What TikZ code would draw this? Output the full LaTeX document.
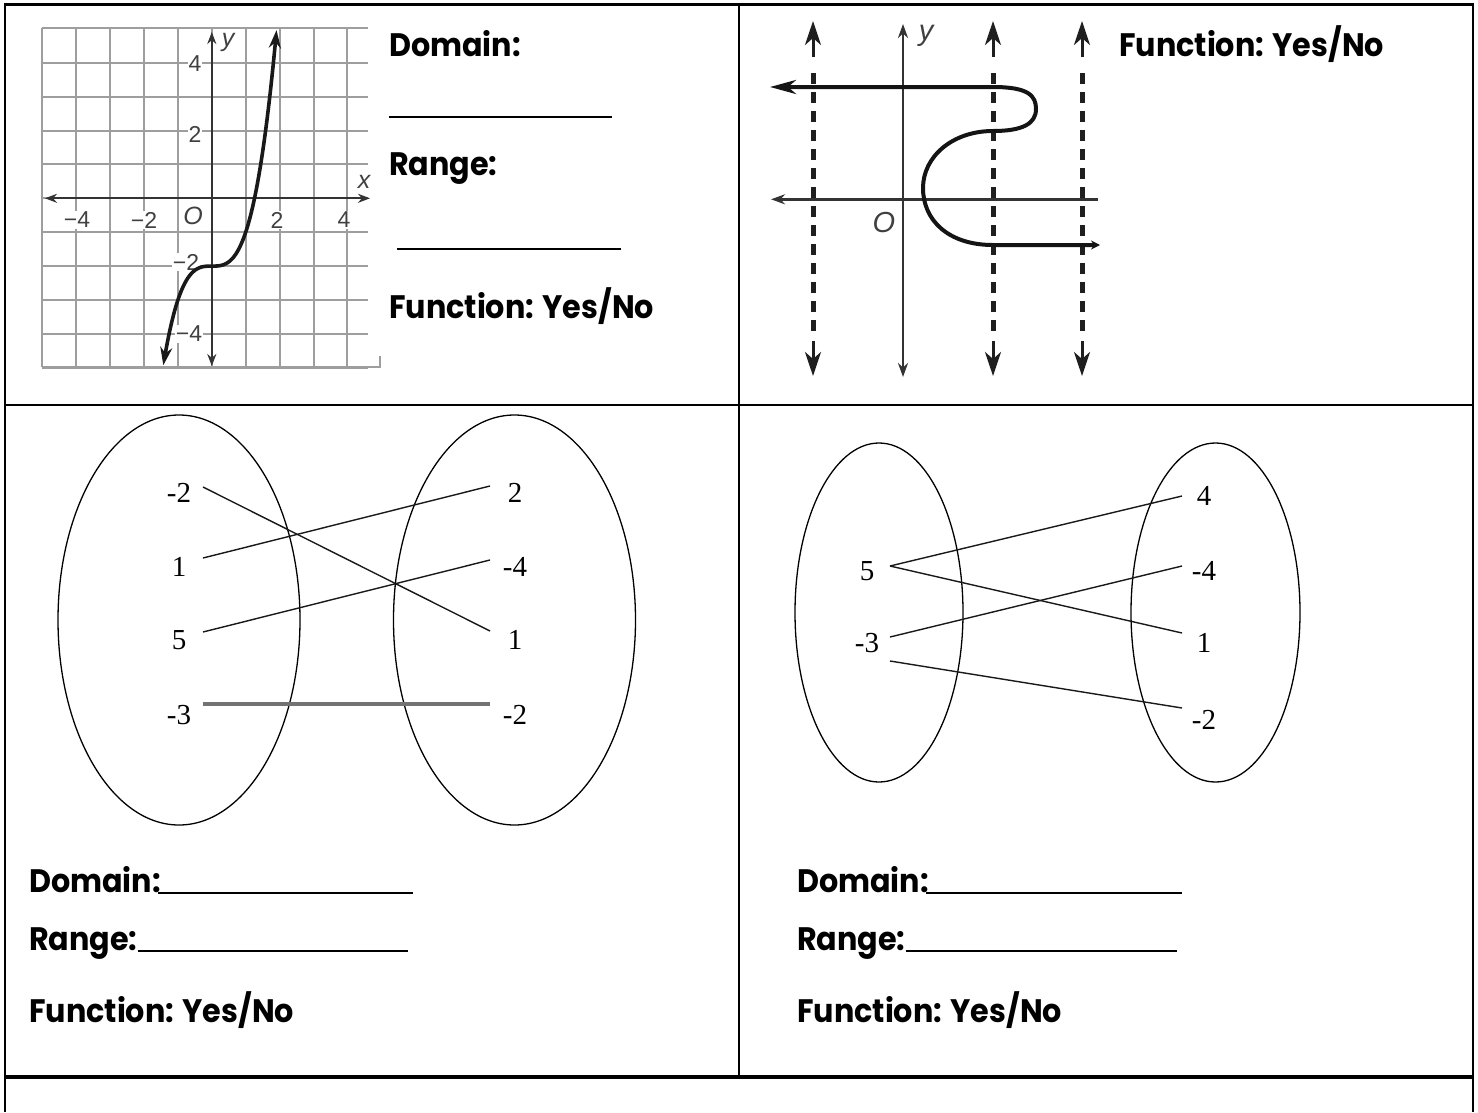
\documentclass[tikz,border=0pt]{standalone}
\usepackage{fontspec}
\setmainfont{Poppins}[FakeStretch=0.93]
\newfontfamily\serifnum{Liberation Serif}
\newfontfamily\graphfont{Liberation Sans}
\usetikzlibrary{arrows.meta,shapes.geometric}
\begin{document}
\begin{tikzpicture}[x=1pt,y=-1pt,
  tbl/.style={line width=2.5pt,black,line join=miter},
  lbl/.style={font=\bfseries\fontsize{32.5}{38}\selectfont, anchor=base west, inner sep=0pt},
  uline/.style={line width=1.6pt,black},
  gridline/.style={line width=2pt,black!38},
  axisA/.style={line width=2pt,black!80},
  tick/.style={font=\graphfont\fontsize{23}{25}\selectfont,text=black!75,fill=white,inner sep=1pt},
  axlbl/.style={font=\graphfont\itshape\fontsize{25}{27}\selectfont,text=black!75,inner sep=0pt},
  curveA/.style={line width=3.6pt,black!90},
  dashline/.style={line width=5pt,black!88,dash pattern=on 11pt off 8pt},
  setell/.style={draw,ellipse,line width=1.3pt,inner sep=0pt},
  num/.style={font=\serifnum\fontsize{29}{32}\selectfont,inner sep=0pt},
  maplink/.style={line width=1.4pt,black!90},
  arr/.style={-{Stealth[length=24pt,width=16pt,inset=7pt]}},
  smallarr/.style={{Stealth[length=12pt,width=9pt]}-{Stealth[length=12pt,width=9pt]}}
]
\useasboundingbox (0,0) rectangle (1478,1112);

% ---------- table ----------
\draw[tbl] (5,1112) -- (5,4.5) -- (1473,4.5) -- (1473,1112);
\draw[tbl] (739,4.5) -- (739,1077);
\draw[tbl] (5,405) -- (1473,405);
\draw[tbl,line width=3.5pt] (5,1077) -- (1473,1077);

% ---------- graph 1 : grid ----------
\foreach \k in {-5,...,4}
  \draw[gridline] ({211.8+33.9*\k},28.3) -- ({211.8+33.9*\k},367);
\foreach \k in {-5,...,4}
  \draw[gridline] (41.7,{198.3-33.9*\k}) -- (368,{198.3-33.9*\k});
\draw[gridline] (41.7,28.3) -- (368,28.3);
\draw[gridline] (41.7,367) -- (380,367) -- (380,356);

\coordinate (g1xl) at (45,198.3);
\coordinate (g1xr) at (370,198.3);
\coordinate (g1yt) at (211.8,32);
\coordinate (g1yb) at (211.8,366);
\draw[axisA,smallarr] (g1xl) -- (g1xr);
\draw[axisA,smallarr] (g1yt) -- (g1yb);

\node[tick] (tm4) at (77,220) {−4};
\node[tick] (tm2) at (144,220) {−2};
\node[tick] (tp2) at (277,220) {2};
\node[tick] (tp4) at (344,220) {4};
\node[axlbl,fill=white,inner sep=1pt] (o1) at (193,216) {O};
\node[tick] (ty4) at (195,64) {4};
\node[tick] (ty2) at (195,134) {2};
\node[tick] (tym2) at (186,262) {−2};
\node[tick] (tym4) at (189,334) {−4};
\node[axlbl] (xl1) at (364,182) {x};
\node[axlbl] (yl1) at (228,42) {y};

\begin{scope}[shift={(211.8,198.3)},x=33.9pt,y=33.9pt]
  \draw[curveA,{Stealth[length=18pt,width=12pt]}-{Stealth[length=18pt,width=12pt]}]
    plot[domain=-1.43:1.91,samples=90,smooth] (\x,{\x*\x*\x-2});
\end{scope}

% ---------- text top-left ----------
\node[lbl] (d1) at (389,56) {Domain:};
\draw[uline] (389,117) -- (612,117);
\node[lbl] (r1) at (389,175) {Range:};
\draw[uline] (397,249) -- (621,249);
\node[lbl] (f1) at (389,318) {Function: Yes/No};

% ---------- graph 2 ----------
\coordinate (g2yt) at (903,24);
\coordinate (g2yb) at (903,377);
\coordinate (g2xl) at (771,199.3);
\coordinate (g2xr) at (1098,199.3);
\draw[axisA,line width=2.4pt,{Stealth[length=14pt,width=10pt]}-{Stealth[length=14pt,width=10pt]}] (g2yt) -- (g2yb);
\draw[axisA,line width=2.4pt,{Stealth[length=14pt,width=10pt]}-] (g2xl) -- (g2xr);
\node[axlbl,font=\graphfont\itshape\fontsize{29}{31}\selectfont] (yl2) at (926,36) {y};
\node[axlbl,font=\graphfont\itshape\fontsize{29}{31}\selectfont] (o2) at (884,223) {O};

\foreach \xx/\nm in {813/a,993/b,1082/c}{
  \coordinate (dt\nm) at (\xx,21);
  \coordinate (dtb\nm) at (\xx,57);
  \coordinate (ds\nm) at (\xx,73);
  \coordinate (de\nm) at (\xx,337);
  \coordinate (dbb\nm) at (\xx,341);
  \coordinate (db\nm) at (\xx,376);
  \draw[line width=3pt,black!88,arr] (dtb\nm) -- (dt\nm);
  \draw[dashline] (ds\nm) -- (de\nm);
  \draw[line width=3pt,black!88,arr] (dbb\nm) -- (db\nm);
}

\coordinate (c2s) at (770,87);
\coordinate (c2e) at (1100,245);
\draw[line width=4pt,black!92,line cap=butt,
      {Stealth[length=26pt,width=14pt,inset=8pt]}-{Stealth[length=9pt,width=9pt]}]
  (c2s) -- (993,87)
  .. controls (1029,87) and (1036,96) .. (1036,109)
  .. controls (1036,124) and (1022,131) .. (993,131)
  .. controls (952,131) and (923,157) .. (923,188)
  .. controls (923,220) and (948,245) .. (993,245)
  -- (c2e);

\node[lbl] (f2) at (1119,56) {Function: Yes/No};

% ---------- mapping 1 ----------
\node[setell,minimum width=242pt,minimum height=410pt] (L1) at (179,620) {};
\node[setell,minimum width=242pt,minimum height=410pt] (R1) at (514.5,620) {};
\node[num] (a1) at (179,493) {-2};
\node[num] (a2) at (179,567) {1};
\node[num] (a3) at (179,640) {5};
\node[num] (a4) at (179,715) {-3};
\node[num] (b1) at (515,493) {2};
\node[num] (b2) at (515,567) {-4};
\node[num] (b3) at (515,640) {1};
\node[num] (b4) at (515,715) {-2};
\coordinate (a1e) at (203,487);
\coordinate (a2e) at (203,558);
\coordinate (a3e) at (203,632);
\coordinate (a4e) at (203,704);
\coordinate (b1e) at (490,486);
\coordinate (b2e) at (490,560);
\coordinate (b3e) at (490,631);
\coordinate (b4e) at (490,704);
\draw[maplink] (a1e) -- (b3e);
\draw[maplink] (a2e) -- (b1e);
\draw[maplink] (a3e) -- (b2e);
\draw[line width=3.2pt,black!55] (a4e) -- (b4e);

\node[lbl] (d3) at (29,892) {Domain:};
\draw[uline] (158,893) -- (413,893);
\node[lbl] (r3) at (29,950) {Range:};
\draw[uline] (138,951) -- (408,951);
\node[lbl] (f3) at (29,1022) {Function: Yes/No};

% ---------- mapping 2 ----------
\node[setell,minimum width=168pt,minimum height=339pt] (L2) at (879,612.5) {};
\node[setell,minimum width=169pt,minimum height=339pt] (R2) at (1215.5,612.5) {};
\node[num] (p1) at (867,571) {5};
\node[num] (p2) at (867,643) {-3};
\node[num] (q1) at (1204,496) {4};
\node[num] (q2) at (1204,571) {-4};
\node[num] (q3) at (1204,643) {1};
\node[num] (q4) at (1204,720) {-2};
\coordinate (p1e) at (890,566);
\coordinate (p2e) at (890,637);
\coordinate (p3e) at (890,661);
\coordinate (q1e) at (1182,496);
\coordinate (q2e) at (1182,566);
\coordinate (q3e) at (1182,633);
\coordinate (q4e) at (1182,708);
\draw[maplink] (p1e) -- (q1e);
\draw[maplink] (p1e) -- (q3e);
\draw[maplink] (p2e) -- (q2e);
\draw[maplink] (p3e) -- (q4e);

\node[lbl] (d4) at (797,892) {Domain:};
\draw[uline] (926,893) -- (1182,893);
\node[lbl] (r4) at (797,950) {Range:};
\draw[uline] (906,951) -- (1177,951);
\node[lbl] (f4) at (797,1022) {Function: Yes/No};
\end{tikzpicture}
\end{document}
